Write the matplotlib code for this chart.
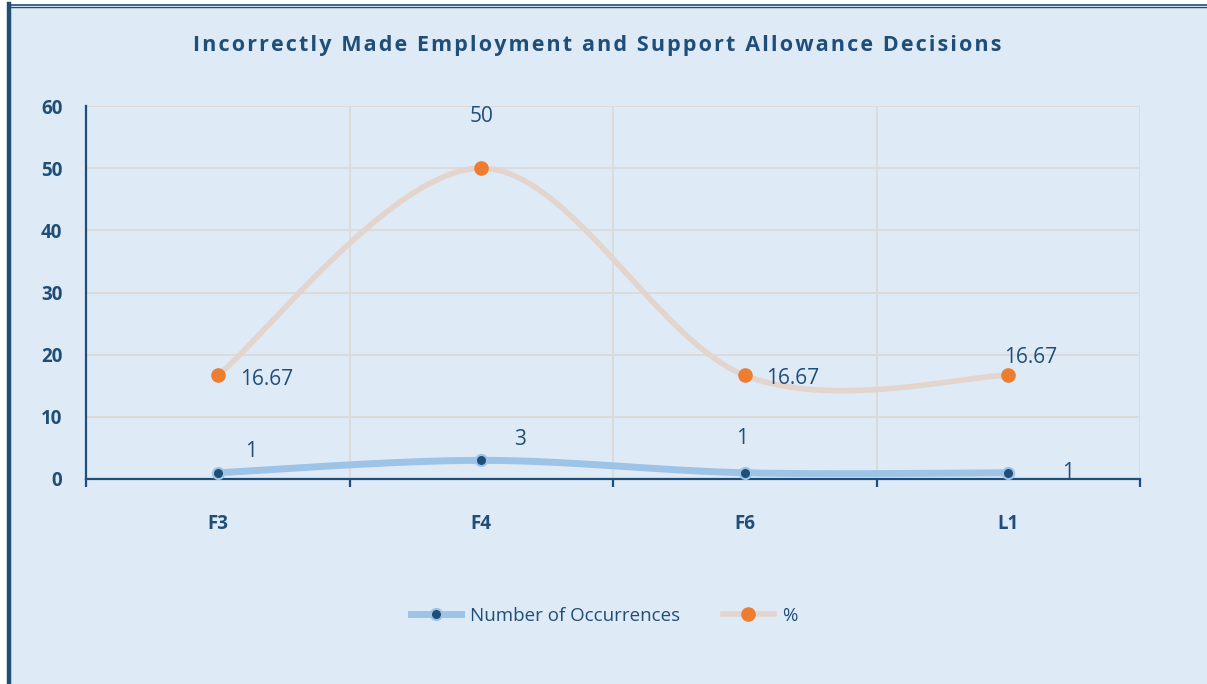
import numpy as np
import matplotlib.pyplot as plt
from matplotlib.lines import Line2D

categories = ["F3", "F4", "F6", "L1"]
occurrences = [1, 3, 1, 1]
percent = [16.67, 50, 16.67, 16.67]
title = "Incorrectly Made Employment and Support Allowance Decisions"

NAVY = "#1F4E79"
BG = "#DEEAF6"
GRID = "#DCD9D6"
BLUE_LINE = "#9DC3E6"
PCT_LINE = "#E3D5CD"
ORANGE = "#ED7D31"

W, H = 1207, 684


def smooth(xs, ys, n=60):
    # Catmull-Rom style bezier segments, like spreadsheet "smoothed line"
    xs, ys = np.asarray(xs, float), np.asarray(ys, float)
    px = np.concatenate([[xs[0]], xs, [xs[-1]]])
    py = np.concatenate([[ys[0]], ys, [ys[-1]]])
    out_x, out_y = [], []
    t = np.linspace(0, 1, n)
    for i in range(1, len(px) - 2):
        p0 = np.array([px[i], py[i]])
        p3 = np.array([px[i + 1], py[i + 1]])
        c1 = p0 + (np.array([px[i + 1], py[i + 1]]) - np.array([px[i - 1], py[i - 1]])) / 6
        c2 = p3 - (np.array([px[i + 2], py[i + 2]]) - np.array([px[i], py[i]])) / 6
        b = ((1 - t) ** 3)[:, None] * p0 + (3 * (1 - t) ** 2 * t)[:, None] * c1 \
            + (3 * (1 - t) * t ** 2)[:, None] * c2 + (t ** 3)[:, None] * p3
        out_x.extend(b[:, 0])
        out_y.extend(b[:, 1])
    return np.array(out_x), np.array(out_y)


plt.rcParams["font.family"] = ["Open Sans", "DejaVu Sans"]
fig = plt.figure(figsize=(W / 100, H / 100), dpi=100, facecolor="white")

# panel background and frame lines
fig.patches.append(plt.Rectangle((9 / W, 0), 1, 1 - 7 / H, transform=fig.transFigure,
                                 facecolor=BG, edgecolor="none", zorder=-10))
fig.add_artist(Line2D([9 / W, 1], [1 - 4.5 / H] * 2, color=NAVY, lw=1.2))
fig.add_artist(Line2D([9 / W, 1], [1 - 7 / H] * 2, color=NAVY, lw=1.0))
fig.add_artist(Line2D([9 / W] * 2, [0, 1 - 4 / H], color=NAVY, lw=3.2))

ax = fig.add_axes([86 / W, 1 - 479 / H, (1140 - 86) / W, (479 - 106) / H])
ax.set_facecolor("none")

x = np.arange(len(categories)) + 0.5
ax.set_xlim(0, len(categories))
ax.set_ylim(0, 60)

sx, sy = smooth(x, occurrences)
ax.plot(sx, sy, color=BLUE_LINE, lw=5, solid_capstyle="round", zorder=3)
ax.plot(x, occurrences, "o", ms=8, color=NAVY, mec=BLUE_LINE, mew=1.5, zorder=4)

px, py = smooth(x, percent)
ax.plot(px, py, color=PCT_LINE, lw=4, solid_capstyle="round", zorder=3)
ax.plot(x, percent, "o", ms=9.5, color=ORANGE, mec=ORANGE, zorder=4)

# data labels
lab = dict(color=NAVY, fontsize=15, zorder=5, textcoords="offset points", va="center")
ax.annotate(f"{percent[0]:.2f}", (x[0], percent[0]), xytext=(16, -3), ha="left", **lab)
ax.annotate(f"{percent[1]:g}", (x[1], percent[1]), xytext=(0, 37), ha="center", **lab)
ax.annotate(f"{percent[2]:.2f}", (x[2], percent[2]), xytext=(15, -2), ha="left", **lab)
ax.annotate(f"{percent[3]:.2f}", (x[3], percent[3]), xytext=(-3, 13), ha="left", **lab)
ax.annotate(f"{occurrences[0]}", (x[0], occurrences[0]), xytext=(24, 15), ha="center", **lab)
ax.annotate(f"{occurrences[1]}", (x[1], occurrences[1]), xytext=(28, 15), ha="center", **lab)
ax.annotate(f"{occurrences[2]}", (x[2], occurrences[2]), xytext=(-2, 25), ha="center", **lab)
ax.annotate(f"{occurrences[3]}", (x[3], occurrences[3]), xytext=(43, 0), ha="center", **lab)

# axes styling
ax.set_yticks(range(0, 61, 10))
ax.set_xticks(np.arange(len(categories) + 1))
ax.set_xticks(x, minor=True)
ax.set_xticklabels([])
ax.set_xticklabels(categories, minor=True)
ax.grid(True, which="major", color=GRID, lw=1.2, zorder=0)
ax.set_axisbelow(True)
for side in ["top", "right"]:
    ax.spines[side].set_visible(False)
for side in ["left", "bottom"]:
    ax.spines[side].set_color(NAVY)
    ax.spines[side].set_linewidth(1.6)
ax.tick_params(axis="x", which="major", length=6, width=1.6, color=NAVY, direction="out")
ax.tick_params(axis="x", which="minor", length=0, pad=25, labelsize=13.5, labelcolor=NAVY)
ax.tick_params(axis="y", length=0, pad=17, labelsize=13.5, labelcolor=NAVY)
for t in ax.get_xticklabels(minor=True) + ax.get_yticklabels():
    t.set_fontweight("bold")

# title with widened letter spacing
spaced = "\u200a".join(title)
fig.text(597 / W, 1 - 46 / H, spaced, ha="center", va="center", fontsize=15.5,
         fontweight="bold", color=NAVY)

handles = [
    Line2D([], [], color=BLUE_LINE, lw=5, marker="o", ms=8, mfc=NAVY, mec=BLUE_LINE, mew=1.5),
    Line2D([], [], color=PCT_LINE, lw=4, marker="o", ms=9.5, mfc=ORANGE, mec=ORANGE),
]
fig.legend(handles, ["Number of Occurrences", "%"], loc="center", bbox_to_anchor=(604 / W, 1 - 616 / H),
           ncol=2, frameon=False, fontsize=13.5, labelcolor=NAVY, handlelength=2.7,
           columnspacing=2.3, handletextpad=0.45)

fig.savefig("out.png", dpi=100, facecolor="white")
